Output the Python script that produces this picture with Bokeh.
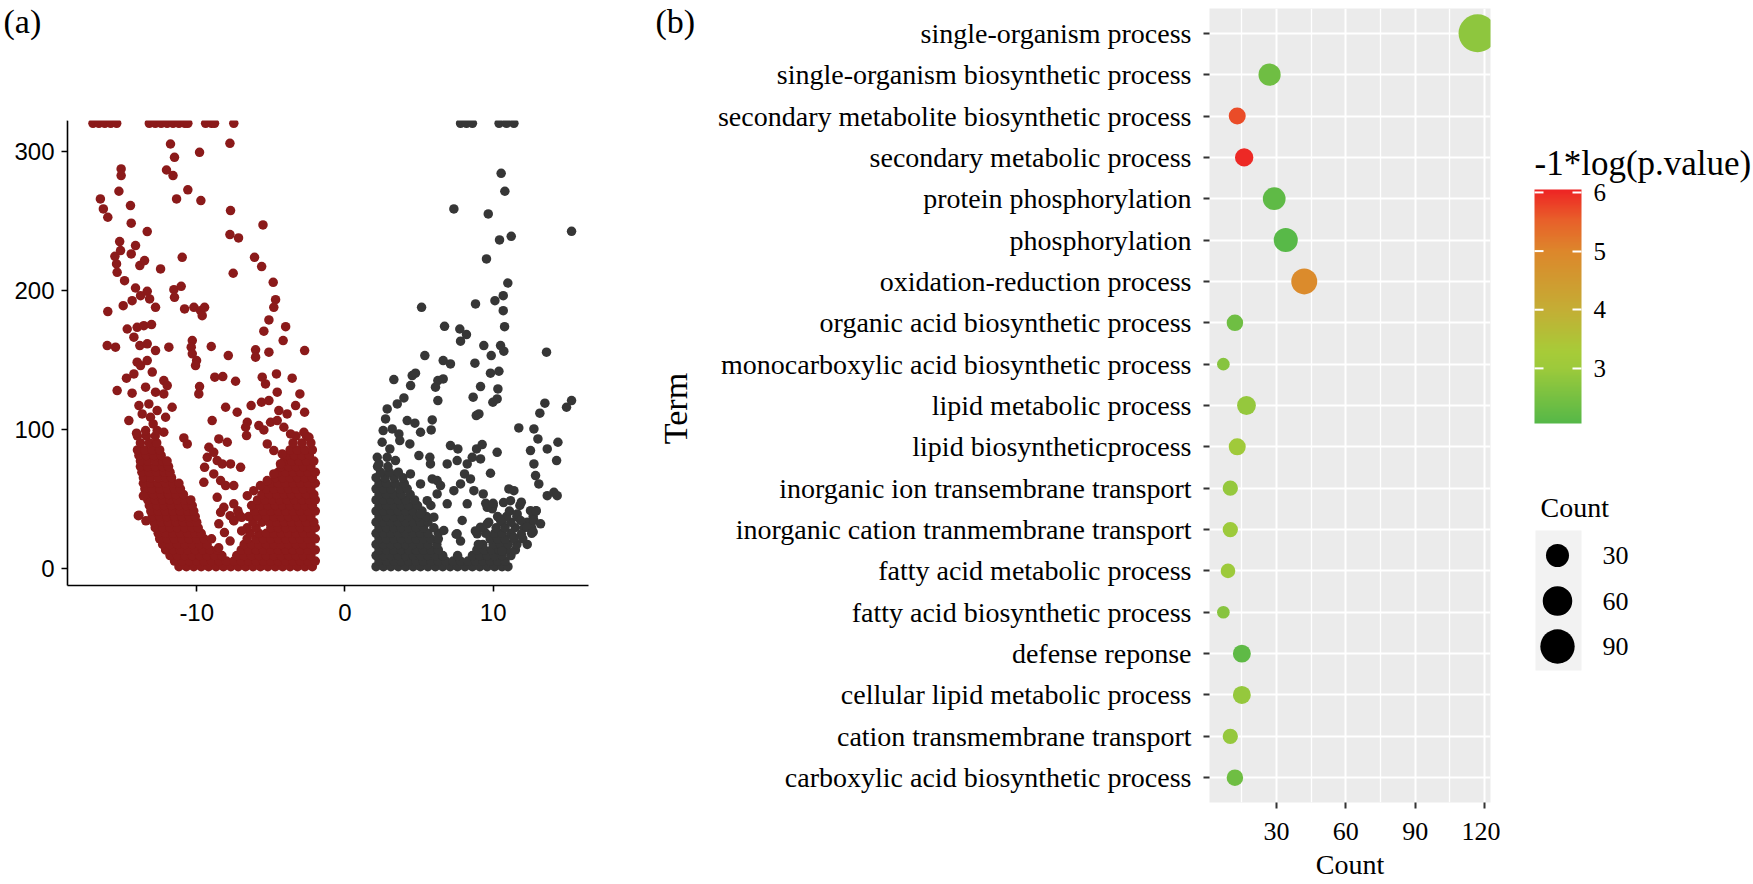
import math
from bokeh.plotting import figure
from bokeh.layouts import row
from bokeh.models import (Range1d, FactorRange, FixedTicker, ColorBar, BoxAnnotation,
                          LinearColorMapper, Label, ColumnDataSource)
from bokeh.core.properties import value
from bokeh.embed import file_html
from bokeh.resources import INLINE

# ------------------------------------------------------------------ data (a)
CAP = 320  # -log10(p) values capped at the top of panel (a)

red_top_x = [-17.0, -16.6, -16.2, -15.8, -15.4, -13.2, -12.8, -12.4, -12.0,
             -11.6, -11.2, -10.8, -10.6, -9.4, -9.0, -8.8, -7.5]
gray_top_x = [7.8, 8.2, 8.6, 10.4, 10.9, 11.4]

red_rows_y = [1, 5, 9, 13, 17, 21, 25, 29, 33, 37, 41, 45, 49, 53, 57, 61,
              65, 69, 73, 77, 81, 85, 90, 95]
red_rows_x = [
    [-11.2, -10.7, -10.2, -9.7, -9.2, -8.7, -8.2, -7.7, -7.2, -6.7, -6.2, -5.7, -5.2, -4.7, -4.2, -3.7, -3.2, -2.7, -2.2],
    [-11.5, -11.0, -10.5, -10.0, -9.5, -9.0, -8.5, -8.0, -7.5, -7.0, -6.5, -6.0, -5.5, -5.0, -4.5, -4.0, -3.5, -3.0, -2.5, -2.0],
    [-11.8, -11.3, -10.8, -10.3, -9.8, -9.3, -8.8, -8.3, -7.3, -6.8, -6.3, -5.8, -5.3, -4.8, -4.3, -3.8, -3.3, -2.8, -2.3],
    [-12.1, -11.6, -11.1, -10.6, -10.1, -9.6, -9.1, -8.6, -7.0, -6.5, -6.0, -5.5, -5.0, -4.5, -4.0, -3.5, -3.0, -2.5, -2.0],
    [-12.3, -11.8, -11.3, -10.8, -10.3, -9.8, -9.3, -6.8, -6.3, -5.8, -5.3, -4.8, -4.3, -3.8, -3.3, -2.8, -2.3],
    [-12.5, -12.0, -11.5, -11.0, -10.5, -10.0, -9.5, -9.0, -6.6, -6.0, -5.5, -5.0, -4.5, -4.0, -3.5, -3.0, -2.5, -2.0],
    [-12.6, -12.1, -11.6, -11.1, -10.6, -10.1, -9.7, -6.4, -5.8, -5.3, -4.8, -4.3, -3.8, -3.3, -2.8, -2.3],
    [-12.8, -12.3, -11.8, -11.3, -10.8, -10.3, -9.9, -6.6, -6.0, -5.0, -4.5, -4.0, -3.5, -3.0, -2.5, -2.0],
    [-12.9, -12.4, -11.9, -11.4, -10.9, -10.4, -10.0, -6.2, -5.6, -5.1, -4.6, -4.1, -3.6, -3.1, -2.6, -2.1],
    [-13.0, -12.5, -12.0, -11.5, -11.0, -10.5, -10.1, -6.5, -5.9, -5.3, -4.8, -4.3, -3.8, -3.3, -2.8, -2.3],
    [-13.1, -12.6, -12.1, -11.6, -11.1, -10.6, -10.2, -6.1, -5.5, -5.0, -4.5, -4.0, -3.5, -3.0, -2.5, -2.0],
    [-13.2, -12.7, -12.2, -11.7, -11.2, -10.7, -10.3, -6.3, -5.7, -5.2, -4.7, -4.2, -3.7, -3.2, -2.7, -2.2],
    [-13.3, -12.8, -12.3, -11.8, -11.3, -10.8, -10.4, -5.9, -5.4, -4.9, -4.4, -3.9, -3.4, -2.9, -2.4, -2.0],
    [-13.4, -12.9, -12.4, -11.9, -11.4, -10.9, -5.6, -5.1, -4.6, -4.1, -3.6, -3.1, -2.6, -2.1],
    [-13.5, -13.0, -12.5, -12.0, -11.5, -11.1, -5.3, -4.8, -4.3, -3.8, -3.3, -2.8, -2.3],
    [-13.6, -13.1, -12.6, -12.1, -11.6, -11.2, -5.0, -4.5, -4.0, -3.5, -3.0, -2.5, -2.0],
    [-13.6, -13.1, -12.6, -12.1, -11.7, -4.7, -4.2, -3.7, -3.2, -2.7, -2.2],
    [-13.7, -13.2, -12.7, -12.2, -11.8, -4.5, -4.0, -3.5, -3.0, -2.5, -2.0],
    [-13.8, -13.3, -12.8, -12.3, -11.9, -4.3, -3.8, -3.3, -2.8, -2.3],
    [-13.8, -13.3, -12.8, -12.3, -12.0, -4.1, -3.6, -3.1, -2.6, -2.1],
    [-13.9, -13.4, -12.9, -12.4, -3.9, -3.4, -2.9, -2.4],
    [-14.0, -13.5, -13.0, -12.5, -3.7, -3.2, -2.7, -2.2],
    [-13.8, -13.2, -12.7, -3.5, -2.9, -2.3],
    [-14.0, -13.4, -12.8, -3.3, -2.6],
]
red_sparse = [
    (-11.77, 305.1), (-9.81, 299.1), (-11.5, 295.5), (-7.76, 305.6),
    (-15.1, 287.2), (-15.1, 282.4), (-12.04, 286.4), (-11.6, 282.4),
    (-16.5, 265.6), (-15.25, 271.1), (-10.6, 272.1), (-11.36, 265.6), (-9.72, 264.4),
    (-16.3, 258.4), (-16.0, 252.4), (-14.47, 260.8), (-7.72, 257.2),
    (-14.42, 248.1), (-13.34, 242.1), (-5.53, 246.9),
    (-15.2, 234.9), (-14.13, 232.0), (-7.76, 239.9), (-7.18, 237.5),
    (-15.52, 224.3), (-15.14, 228.4), (-14.42, 226.0), (-10.98, 223.6), (-6.1, 223.6),
    (-15.41, 218.8), (-15.37, 212.8), (-13.84, 217.6), (-13.52, 221.2), (-12.44, 215.2),
    (-5.62, 216.9), (-7.54, 212.1),
    (-14.87, 206.8), (-4.84, 205.6), (-14.13, 201.5), (-13.34, 199.1), (-11.54, 200.3), (-11.05, 202.7),
    (-16.0, 184.5), (-14.96, 188.8), (-14.36, 192.4), (-13.79, 196.0), (-13.18, 193.6), (-12.78, 187.6),
    (-11.5, 194.8), (-10.82, 186.4), (-10.19, 187.6), (-9.74, 185.2), (-9.47, 187.6), (-9.63, 181.6),
    (-4.68, 193.1), (-4.8, 187.6),
    (-14.69, 172.0), (-14.02, 173.2), (-13.57, 174.4), (-13.05, 175.2), (-5.13, 178.5), (-5.47, 170.4), (-4.0, 173.7),
    (-16.04, 160.1), (-15.48, 158.9), (-14.24, 166.1), (-13.84, 160.1), (-13.34, 161.3), (-11.88, 158.9),
    (-10.3, 163.7), (-10.37, 158.9), (-9.02, 159.4), (-7.87, 152.9), (-6.03, 157.0), (-5.13, 155.3),
    (-4.17, 163.7), (-2.72, 156.5),
    (-14.02, 148.1), (-13.79, 145.7), (-13.34, 149.3), (-12.78, 156.5), (-10.3, 154.1), (-10.01, 149.3),
    (-10.08, 145.7), (-6.03, 151.7),
    (-14.74, 136.6), (-12.22, 134.9), (-11.99, 131.3), (-8.78, 137.3), (-8.24, 137.8), (-7.38, 134.4),
    (-5.58, 137.3), (-5.36, 132.5), (-4.62, 139.7), (-3.56, 136.6), (-14.24, 139.7), (-13.0, 141.0),
    (-15.37, 127.7), (-14.36, 125.8), (-13.45, 130.1), (-12.78, 126.5), (-12.22, 125.3), (-9.81, 130.6),
    (-9.86, 125.3), (-4.57, 126.5), (-3.04, 125.3), (-5.13, 120.5),
    (-13.9, 116.9), (-13.23, 118.1), (-12.67, 113.3), (-11.66, 115.7), (-8.05, 115.7), (-7.27, 112.1),
    (-6.33, 116.9), (-5.63, 119.3), (-4.46, 113.3), (-3.9, 110.9), (-3.33, 116.9), (-2.72, 112.1),
    (-13.68, 110.9), (-12.1, 108.5),
    (-14.58, 106.1), (-13.12, 108.5), (-12.94, 103.7), (-8.96, 106.1), (-6.59, 104.9), (-6.7, 101.3),
    (-5.81, 102.5), (-5.02, 104.9), (-4.57, 106.1), (-4.12, 101.3), (-3.67, 96.5),
    (-14.06, 97.0), (-13.45, 98.9), (-12.67, 98.9), (-12.22, 97.7), (-10.87, 93.6), (-8.51, 92.9),
    (-7.94, 90.5), (-6.64, 95.3), (-5.47, 99.4), (-2.77, 97.7), (-2.43, 94.1),
    (-9.18, 86.9), (-8.85, 83.3), (-9.29, 79.7), (-8.62, 77.3), (-8.28, 74.9), (-7.72, 74.9),
    (-9.47, 72.5), (-8.85, 67.7), (-8.39, 62.9), (-8.05, 59.3), (-7.5, 59.3), (-7.04, 72.5),
    (-9.52, 61.7), (-8.62, 50.9), (-8.17, 43.7), (-7.5, 46.2), (-7.16, 38.9), (-8.51, 31.8),
    (-7.5, 34.2), (-6.59, 52.1), (-6.15, 55.7), (-5.7, 59.3), (-5.24, 62.9), (-4.8, 67.7),
    (-4.35, 74.9), (-4.23, 82.1), (-4.8, 84.5), (-5.24, 89.3), (-10.64, 89.3),
    (-13.9, 38.0), (-13.6, 52.0), (-13.94, 37.7), (-13.43, 34.0),
    (-8.39, 40.1), (-7.75, 37.7), (-7.23, 41.3), (-7.49, 34.0), (-6.97, 36.5), (-8.13, 25.5),
    (-6.97, 26.7), (-7.75, 19.4), (-8.52, 14.6),
]

gray_rows_y = [1, 5, 9, 13, 17, 21, 25, 29, 33, 37, 41, 45, 49, 53, 57, 61, 65, 69, 73]
gray_rows_x = [
    [2.1, 2.6, 3.1, 3.6, 4.1, 4.6, 5.1, 5.6, 6.1, 6.6, 7.1, 7.6, 8.1, 8.6, 9.1, 9.6, 10.1, 10.6, 11.0],
    [2.3, 2.8, 3.3, 3.8, 4.3, 4.8, 5.3, 5.8, 6.3, 6.8, 7.3, 7.8, 8.3, 8.8, 9.3, 9.8, 10.3, 10.8],
    [2.1, 2.6, 3.1, 3.6, 4.1, 4.6, 5.1, 5.6, 6.1, 6.6, 7.6, 8.6, 9.1, 9.6, 10.1, 10.6, 11.2],
    [2.3, 2.8, 3.3, 3.8, 4.3, 4.8, 5.3, 5.8, 6.3, 8.9, 9.4, 9.9, 10.4, 10.9, 11.5],
    [2.1, 2.6, 3.1, 3.6, 4.1, 4.6, 5.1, 5.6, 6.2, 9.3, 10.0, 10.5, 11.0, 11.6, 12.3],
    [2.3, 2.8, 3.3, 3.8, 4.3, 4.8, 5.3, 5.8, 6.3, 9.8, 10.3, 10.8, 11.4, 12.0],
    [2.1, 2.6, 3.1, 3.6, 4.1, 4.6, 5.1, 5.6, 6.3, 9.5, 10.1, 10.6, 11.2, 12.6],
    [2.3, 2.8, 3.3, 3.8, 4.3, 4.8, 5.3, 6.0, 9.3, 10.2, 10.8, 11.5, 12.1, 12.6],
    [2.1, 2.6, 3.1, 3.6, 4.1, 4.6, 5.1, 5.6, 9.7, 10.6, 11.2, 12.3],
    [2.3, 2.8, 3.3, 3.8, 4.3, 4.9, 5.5, 10.3, 10.9, 11.6, 12.7],
    [2.1, 2.6, 3.1, 3.6, 4.1, 4.6, 5.2, 11.1, 12.9],
    [2.3, 2.8, 3.3, 3.8, 4.3, 4.9, 5.8, 10.0, 11.8],
    [2.1, 2.6, 3.1, 3.6, 4.1, 4.7],
    [2.3, 2.8, 3.3, 3.8, 4.4],
    [2.1, 2.6, 3.1, 3.7, 4.2],
    [2.3, 2.8, 3.4, 4.0],
    [2.1, 2.7, 3.3, 3.9],
    [2.4, 3.0, 3.6],
    [2.2, 2.9],
]
gray_sparse = [
    (10.54, 284.0), (10.79, 271.1), (7.35, 258.4), (9.67, 254.8), (10.43, 236.1), (11.22, 238.7),
    (15.29, 242.3), (9.55, 222.4),
    (10.99, 205.1), (10.68, 196.0), (10.12, 192.4), (8.81, 190.0), (5.17, 187.6), (10.68, 185.2),
    (10.77, 173.7), (6.72, 173.9), (7.75, 172.0), (8.2, 168.0), (7.8, 163.2), (9.37, 160.1),
    (9.87, 152.9), (10.72, 156.0), (10.5, 160.1), (13.6, 155.3),
    (5.39, 152.9), (6.63, 149.3), (7.12, 146.9), (8.77, 147.4), (9.82, 140.2), (10.39, 141.6),
    (9.15, 130.6), (10.32, 128.9), (8.65, 122.9), (9.98, 119.3), (10.27, 121.7), (13.49, 118.6),
    (13.15, 111.4), (15.29, 120.5), (14.95, 115.7),
    (3.3, 135.6), (4.54, 138.5), (4.76, 140.2), (4.43, 131.3), (6.27, 134.9), (6.63, 136.1),
    (6.11, 130.1), (6.27, 120.5), (3.98, 122.4), (3.53, 118.1), (2.85, 114.5), (2.74, 107.3),
    (4.2, 106.1), (4.72, 104.2), (5.1, 97.7), (5.89, 106.6), (5.82, 99.4), (8.86, 109.7), (9.04, 110.9),
    (2.58, 98.9), (3.19, 100.1), (3.64, 96.5), (2.51, 90.5), (3.03, 85.7), (3.7, 91.7), (4.38, 89.3),
    (7.12, 88.1), (7.62, 85.7), (8.88, 85.7), (9.26, 88.8), (10.27, 83.3), (9.15, 78.5),
    (11.73, 100.8), (12.75, 100.1), (13.02, 92.9), (13.65, 85.7), (12.52, 84.5), (14.37, 90.5), (14.28, 77.3),
    (2.18, 79.7), (2.29, 74.9), (2.85, 79.7), (3.41, 77.3), (4.99, 80.9), (5.73, 79.7), (5.77, 74.9),
    (6.9, 74.9), (7.57, 77.3), (8.25, 74.9), (8.59, 79.7), (9.82, 68.2), (12.75, 74.9), (12.86, 66.5),
    (13.08, 60.5), (13.65, 52.1), (14.1, 54.5), (14.32, 52.1),
    (4.42, 67.7), (5.1, 60.5), (5.89, 64.1), (6.22, 62.9), (6.45, 59.3), (7.35, 55.7), (7.8, 60.5),
    (8.07, 67.7), (8.47, 64.1), (8.7, 55.7), (9.33, 53.3), (9.6, 43.7), (9.94, 42.6), (8.25, 46.2),
    (7.91, 34.2), (6.9, 46.2), (6.22, 53.3), (5.55, 48.5), (5.1, 38.9), (6.0, 36.6), (6.67, 27.0),
    (7.57, 24.6), (8.92, 24.6), (9.15, 29.4), (9.6, 31.8), (10.5, 34.2), (11.17, 48.5), (11.62, 38.9),
    (11.85, 34.2), (12.3, 29.4), (12.52, 41.3), (12.75, 34.2), (13.2, 31.8), (11.06, 56.9), (11.4, 55.7),
    (9.5, 46.6), (10.0, 46.6), (10.7, 47.1), (11.9, 47.4), (12.9, 41.3), (12.7, 26.0), (11.9, 24.3),
    (11.4, 21.9), (10.6, 12.2), (9.0, 17.0), (7.8, 19.4), (7.5, 24.3), (8.8, 26.7),
]
volcano_xticks = [-10, 0, 10]
volcano_yticks = [0, 100, 200, 300]

# ------------------------------------------------------------------ data (b)
terms = [
    "single-organism process",
    "single-organism biosynthetic process",
    "secondary metabolite biosynthetic process",
    "secondary metabolic process",
    "protein phosphorylation",
    "phosphorylation",
    "oxidation-reduction process",
    "organic acid biosynthetic process",
    "monocarboxylic acid biosynthetic process",
    "lipid metabolic process",
    "lipid biosyntheticprocess",
    "inorganic ion transembrane transport",
    "inorganic cation tranmembrane transport",
    "fatty acid metabolic process",
    "fatty acid biosynthetic process",
    "defense reponse",
    "cellular lipid metabolic process",
    "cation transmembrane transport",
    "carboxylic acid biosynthetic process",
]
counts = [117, 27, 13, 16, 29, 34, 42, 12, 7, 17, 13, 10, 10, 9, 7, 15, 15, 10, 12]
neglogp = [2.8, 2.4, 5.7, 6.0, 2.2, 2.1, 4.9, 2.4, 2.7, 2.9, 3.1, 2.9, 3.0, 3.0, 2.7, 2.2, 2.9, 2.9, 2.4]
count_ticks = [30, 60, 90, 120]
count_minor = [15, 45, 75, 105]
color_ticks = [3, 4, 5, 6]
size_keys = [30, 60, 90]

# ------------------------------------------------------------------ helpers (style)
def bubble_px(c):
    # area-like size scale: diameter in px
    return 10 + 28 * math.sqrt(max(c - 6, 0) / 111.0)

def make_palette(stops, n=256):
    out = []
    for i in range(n):
        t = i / (n - 1)
        for (t0, c0), (t1, c1) in zip(stops[:-1], stops[1:]):
            if t0 <= t <= t1:
                f = (t - t0) / (t1 - t0) if t1 > t0 else 0
                rgb = [round(a + (b - a) * f) for a, b in zip(c0, c1)]
                out.append("#%02x%02x%02x" % tuple(rgb))
                break
    return out

stops = [(0.0, (0x56, 0xB8, 0x48)), (0.235, (0x9D, 0xCA, 0x3B)), (0.31, (0xA8, 0xCB, 0x38)),
         (0.486, (0xC4, 0xAE, 0x35)), (0.737, (0xDD, 0x87, 0x2B)), (0.87, (0xE8, 0x60, 0x2A)),
         (1.0, (0xEE, 0x24, 0x24))]
CB_LOW, CB_HIGH = 2.06, 6.05
mapper = LinearColorMapper(palette=make_palette(stops), low=CB_LOW, high=CB_HIGH)

SERIF = "Liberation Serif"
SANS = "Liberation Sans"
H = 884
TOP = 8       # shared top border (row aligns frames)
BOTTOM = 82   # shared bottom border
FR_H = H - TOP - BOTTOM   # frame height shared by all panels (794)

# ------------------------------------------------------------------ panel (a)
def flatten(rows_y, rows_x, sparse, top_x):
    xs, ys = [], []
    for yv, row_x in zip(rows_y, rows_x):
        for xv in row_x:
            xs.append(xv); ys.append(yv)
    for xv, yv in sparse:
        xs.append(xv); ys.append(yv)
    for xv in top_x:
        xs.append(xv); ys.append(CAP)
    return xs, ys

rx, ry = flatten(red_rows_y, red_rows_x, red_sparse, red_top_x)
gx, gy = flatten(gray_rows_y, gray_rows_x, gray_sparse, gray_top_x)

X_LO, X_HI = -18.72, 16.4   # visible panel of (a)
Y_LO, Y_HI = -12.6, 322.0
pA = figure(width=700, height=H, x_range=Range1d(-23.24, 23.99), y_range=Range1d(-168.7, 402.6),
            output_backend="svg", toolbar_location=None,
            min_border_left=0, min_border_right=0, min_border_top=TOP, min_border_bottom=BOTTOM)
pA.grid.visible = False
pA.outline_line_color = None
pA.scatter(rx, ry, size=9.5, fill_color="#8B1A1A", line_color=None)
pA.scatter(gx, gy, size=9.5, fill_color="#363636", line_color=None)
pA.xaxis.ticker = FixedTicker(ticks=volcano_xticks)
pA.xaxis.major_label_overrides = {t: str(t) for t in volcano_xticks}
pA.yaxis.ticker = FixedTicker(ticks=volcano_yticks)
pA.xaxis.fixed_location = Y_LO
pA.xaxis.bounds = (X_LO, X_HI)
pA.yaxis.fixed_location = X_LO
pA.yaxis.bounds = (Y_LO, Y_HI)
for ax in (pA.xaxis[0], pA.yaxis[0]):
    ax.axis_line_color = "black"
    ax.axis_line_width = 1.6
    ax.major_tick_line_color = "black"
    ax.major_tick_line_width = 1.6
    ax.major_tick_out = 6
    ax.major_tick_in = 0
    ax.minor_tick_line_color = None
    ax.major_label_text_font = SANS
    ax.major_label_text_font_size = "24px"
    ax.major_label_text_color = "black"
pA.xaxis.major_label_standoff = 12
pA.yaxis.major_label_standoff = 7
# values above the cap are cut at the top edge of the panel
pA.add_layout(BoxAnnotation(bottom=Y_HI, left=X_LO, right=X_HI,
                            fill_color="white", fill_alpha=1.0, line_color=None))
# panel tags and the y title of (b) live in the left canvas (screen px from frame bottom-left)
pA.add_layout(Label(x=3, y=FR_H + 6, x_units="screen", y_units="screen", text="(a)",
                    text_font=SERIF, text_font_size="34px", text_color="black",
                    text_baseline="top", text_align="left"))
pA.add_layout(Label(x=655, y=FR_H + 6, x_units="screen", y_units="screen", text="(b)",
                    text_font=SERIF, text_font_size="34px", text_color="black",
                    text_baseline="top", text_align="left"))
pA.add_layout(Label(x=675, y=FR_H - 400, x_units="screen", y_units="screen", text="Term",
                    angle=math.pi / 2, text_font=SERIF, text_font_size="34px", text_color="black",
                    text_baseline="middle", text_align="center"))

# ------------------------------------------------------------------ panel (b)
factors = list(reversed(terms))
src = ColumnDataSource(dict(count=counts, term=terms, lp=neglogp,
                            size=[bubble_px(c) for c in counts]))
pB = figure(width=800, height=H, x_range=Range1d(1.0, 122.6),
            y_range=FactorRange(factors=factors, range_padding=0.1, range_padding_units="absolute"),
            output_backend="svg", toolbar_location=None,
            min_border_left=509, min_border_right=10, min_border_top=TOP, min_border_bottom=BOTTOM)
pB.background_fill_color = "#EBEBEB"
pB.outline_line_color = None
pB.scatter(x="count", y="term", size="size", source=src,
           fill_color={"field": "lp", "transform": mapper}, line_color=None)
pB.xaxis.ticker = FixedTicker(ticks=count_ticks, minor_ticks=count_minor)
pB.xgrid.grid_line_color = "white"
pB.xgrid.grid_line_width = 2
pB.xgrid.minor_grid_line_color = "white"
pB.xgrid.minor_grid_line_width = 1.3
pB.ygrid.grid_line_color = "white"
pB.ygrid.grid_line_width = 2
for ax in (pB.xaxis[0], pB.yaxis[0]):
    ax.axis_line_color = None
    ax.major_tick_line_color = "#333333"
    ax.major_tick_line_width = 2
    ax.major_tick_out = 6
    ax.major_tick_in = 0
    ax.minor_tick_line_color = None
    ax.major_label_text_font = SERIF
    ax.major_label_text_color = "black"
    ax.axis_label_text_font = SERIF
    ax.axis_label_text_font_style = "normal"
    ax.axis_label_text_color = "black"
pB.yaxis.major_label_text_font_size = "28px"
pB.yaxis.major_label_standoff = 12
pB.xaxis.major_label_text_font_size = "26px"
pB.xaxis.major_label_standoff = 14
pB.xaxis.axis_label = "Count"
pB.xaxis.axis_label_text_font_size = "28px"
pB.xaxis.axis_label_standoff = 6

# ------------------------------------------------------------------ legends
pC = figure(width=253, height=H, x_range=Range1d(0, 220), y_range=Range1d(FR_H, 0),
            x_axis_location=None, y_axis_location=None,
            output_backend="svg", toolbar_location=None,
            min_border_left=33, min_border_right=0, min_border_top=TOP, min_border_bottom=BOTTOM)
pC.grid.visible = False
pC.outline_line_color = None

BAR_X, BAR_W, BAR_TOP, BAR_H = 1, 47, 181, 234   # colour bar box in legend px
cb = ColorBar(color_mapper=mapper, ticker=FixedTicker(ticks=color_ticks),
              location=(BAR_X, FR_H - BAR_TOP - BAR_H), orientation="vertical",
              width=BAR_W, height=BAR_H, margin=0, padding=0,
              major_label_text_font=SERIF, major_label_text_font_size="25px",
              major_label_text_color="black", label_standoff=12,
              major_tick_line_color="white", major_tick_line_width=2,
              major_tick_in=9, major_tick_out=0, minor_tick_line_color=None,
              bar_line_color=None, background_fill_color=None, border_line_color=None)
pC.add_layout(cb, "center")
# white tick marks on the left edge of the bar as well (ggplot style), drawn above the bar
tick_y = [BAR_TOP + BAR_H - (t - CB_LOW) / (CB_HIGH - CB_LOW) * BAR_H for t in color_ticks]
pC.segment(x0=[BAR_X] * len(tick_y), y0=tick_y, x1=[BAR_X + 9] * len(tick_y), y1=tick_y,
           line_color="white", line_width=2, level="overlay")
pC.text(x=[1], y=[155], text=["-1*log(p.value)"], text_font=value(SERIF), text_font_size="35px",
        text_color="black", text_baseline="middle", text_align="left")

key_y0, key_step = 547, 45.5
key_ys = [key_y0 + i * key_step for i in range(len(size_keys))]
pC.text(x=[7], y=[499], text=["Count"], text_font=value(SERIF), text_font_size="28px",
        text_color="black", text_baseline="middle", text_align="left")
pC.quad(left=[2], right=[48], top=[522], bottom=[662], fill_color="#F2F2F2", line_color=None)
pC.scatter(x=[24] * len(size_keys), y=key_ys, size=[bubble_px(c) for c in size_keys],
           fill_color="black", line_color=None)
pC.text(x=[69] * len(size_keys), y=key_ys, text=[str(c) for c in size_keys],
        text_font=value(SERIF), text_font_size="26px", text_color="black",
        text_baseline="middle", text_align="left")

layout = row(pA, pB, pC)
open("out.html", "w").write(file_html(layout, INLINE, "GO enrichment"))
